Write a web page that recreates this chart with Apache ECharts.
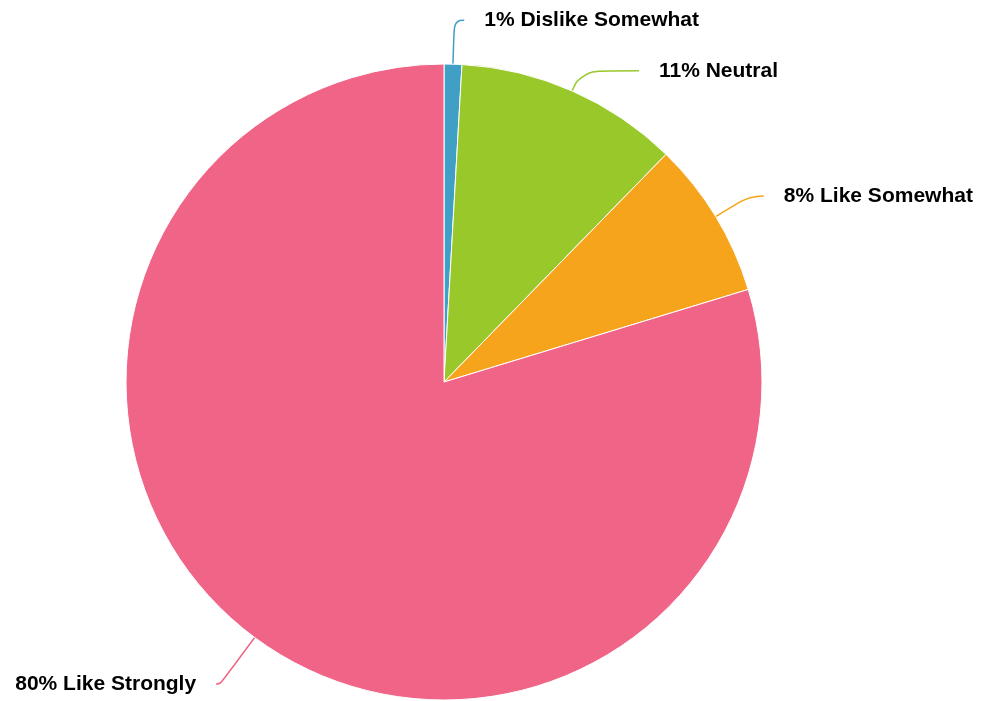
<!DOCTYPE html>
<html><head><meta charset="utf-8">
<script src="https://cdn.jsdelivr.net/npm/echarts@6/dist/echarts.min.js"></script>
<style>html,body{margin:0;padding:0;background:#fff}#c{width:984px;height:701px}</style>
</head><body><div id="c"></div>
<script>
const categories = ['Dislike Somewhat', 'Neutral', 'Like Somewhat', 'Like Strongly'];
const values = [0.9, 11.4, 8.0, 79.7];
const colors = ['#409fc5', '#98c82a', '#f5a41b', '#f06587'];
const lineLen = [44, 22, 40, 58];
const lineLen2 = [10, 58, 14, 4];

const chart = echarts.init(document.getElementById('c'));
chart.setOption({
  animation: false,
  series: [{
    type: 'pie',
    center: [444, 382],
    radius: 318,
    startAngle: 90,
    clockwise: true,
    percentPrecision: 0,
    avoidLabelOverlap: false,
    data: categories.map((n, i) => ({
      name: n, value: values[i],
      itemStyle: { color: colors[i] },
      labelLine: { length: lineLen[i], length2: lineLen2[i] }
    })),
    itemStyle: { borderColor: '#fff', borderWidth: 1 },
    label: {
      show: true,
      formatter: '{d}% {b}',
      fontFamily: 'Liberation Sans, Arial, sans-serif',
      fontWeight: 'bold',
      fontSize: 21,
      color: '#000',
      distanceToLabelLine: 20
    },
    labelLine: { show: true, smooth: 0.5, lineStyle: { width: 1.5 } },
    emphasis: { disabled: true }
  }]
});
</script></body></html>
